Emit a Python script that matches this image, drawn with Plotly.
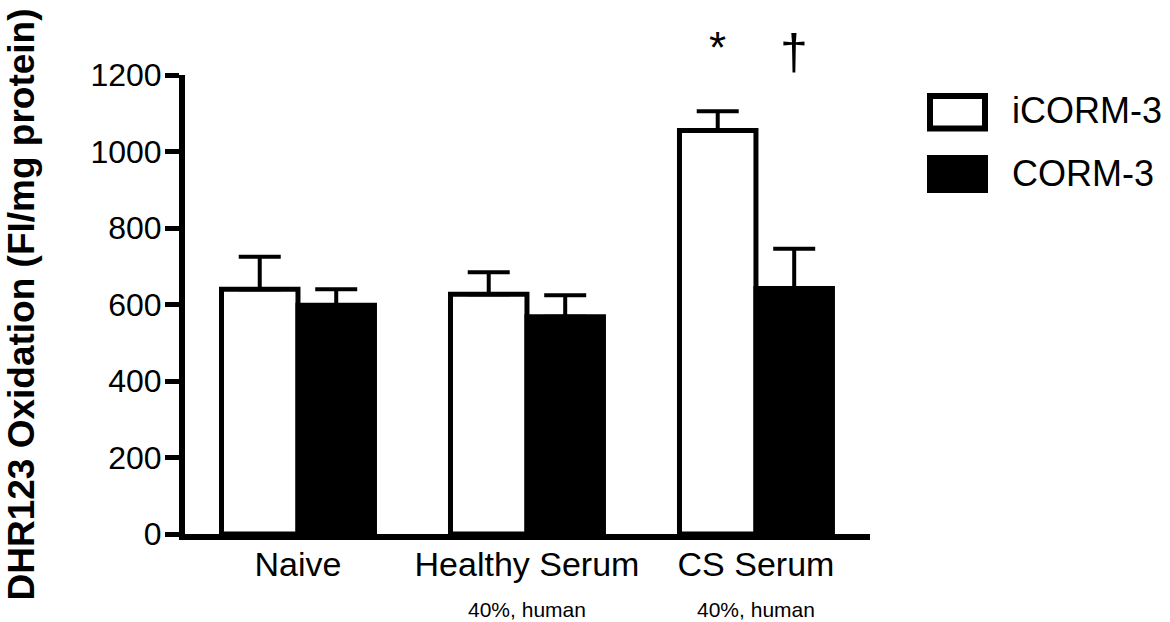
import plotly.graph_objects as go

# ---- data ----
categories = ["Naive", "Healthy Serum", "CS Serum"]
sublabels = ["", "40%, human", "40%, human"]
series_names = ["iCORM-3", "CORM-3"]
icorm_values = [640, 627, 1055]
icorm_err = [85, 57, 50]
corm_values = [598, 568, 642]
corm_err = [42, 56, 104]
significance = ["*", "†"]
y_ticks = [0, 200, 400, 600, 800, 1000, 1200]

# ---- layout geometry (pixels) ----
W, H = 1170, 622
L, R, T, B = 185, 870, 75, 534
FONT = "Liberation Sans, Arial, Helvetica, sans-serif"


def px_x(px):
    return (px - L) / (R - L)


def px_y(py):
    return (B - py) / (B - T)


fig = go.Figure()
fig.add_trace(go.Bar(
    x=categories, y=icorm_values, name=series_names[0],
    marker=dict(color="white", line=dict(color="black", width=5)),
    error_y=dict(type="data", symmetric=False, array=icorm_err,
                 arrayminus=[0] * len(icorm_err), color="black",
                 thickness=4, width=21),
    showlegend=False,
))
fig.add_trace(go.Bar(
    x=categories, y=corm_values, name=series_names[1],
    marker=dict(color="black", line=dict(color="black", width=5)),
    error_y=dict(type="data", symmetric=False, array=corm_err,
                 arrayminus=[0] * len(corm_err), color="black",
                 thickness=4, width=21),
    showlegend=False,
))

shapes = [
    dict(type="rect", xref="paper", yref="paper",
         x0=px_x(930), x1=px_x(985), y0=px_y(128.5), y1=px_y(96),
         line=dict(color="black", width=6), fillcolor="white"),
    dict(type="rect", xref="paper", yref="paper",
         x0=px_x(927), x1=px_x(988), y0=px_y(193), y1=px_y(155),
         line=dict(width=0), fillcolor="black"),
]

annotations = [
    dict(text=series_names[0], xref="paper", yref="paper",
         x=px_x(1010), y=px_y(110), xanchor="left", yanchor="middle",
         showarrow=False, font=dict(family=FONT, size=36, color="black")),
    dict(text=series_names[1], xref="paper", yref="paper",
         x=px_x(1010), y=px_y(173), xanchor="left", yanchor="middle",
         showarrow=False, font=dict(family=FONT, size=36, color="black")),
    dict(text=significance[0], xref="x", yref="paper", x=categories[2],
         xshift=-38, y=px_y(48), xanchor="center", yanchor="middle",
         showarrow=False, font=dict(family=FONT, size=44, color="black")),
    dict(text=significance[1], xref="x", yref="paper", x=categories[2],
         xshift=38, y=px_y(52), xanchor="center", yanchor="middle",
         showarrow=False, font=dict(family=FONT, size=50, color="black")),
]
for cat, sub in zip(categories, sublabels):
    if sub:
        annotations.append(dict(
            text=sub, xref="x", yref="paper", x=cat, y=px_y(609),
            xanchor="center", yanchor="middle", showarrow=False,
            font=dict(family=FONT, size=21, color="black")))

fig.update_layout(
    width=W, height=H,
    margin=dict(l=L, r=W - R, t=T, b=H - B, pad=0),
    paper_bgcolor="white", plot_bgcolor="white",
    barmode="group", bargap=0.332, bargroupgap=0,
    font=dict(family=FONT, color="black"),
    shapes=shapes, annotations=annotations,
    xaxis=dict(
        range=[-0.4934, 2.498], showline=True, linewidth=6,
        linecolor="black", ticks="", showgrid=False, zeroline=False,
        tickfont=dict(family=FONT, size=34, color="black"),
        ticklabelstandoff=-5,
    ),
    yaxis=dict(
        range=[0, 1200], tickvals=y_ticks, ticktext=[str(v) for v in y_ticks],
        showline=True, linewidth=6, linecolor="black",
        ticks="outside", ticklen=14, tickwidth=5, tickcolor="black",
        showgrid=False, zeroline=False, ticklabelstandoff=-3,
        tickfont=dict(family=FONT, size=32, color="black"),
        title=dict(text="<b>DHR123 Oxidation (FI/mg protein)</b>",
                   font=dict(family=FONT, size=37, color="black"),
                   standoff=46),
    ),
)

fig.write_html("out.html")
